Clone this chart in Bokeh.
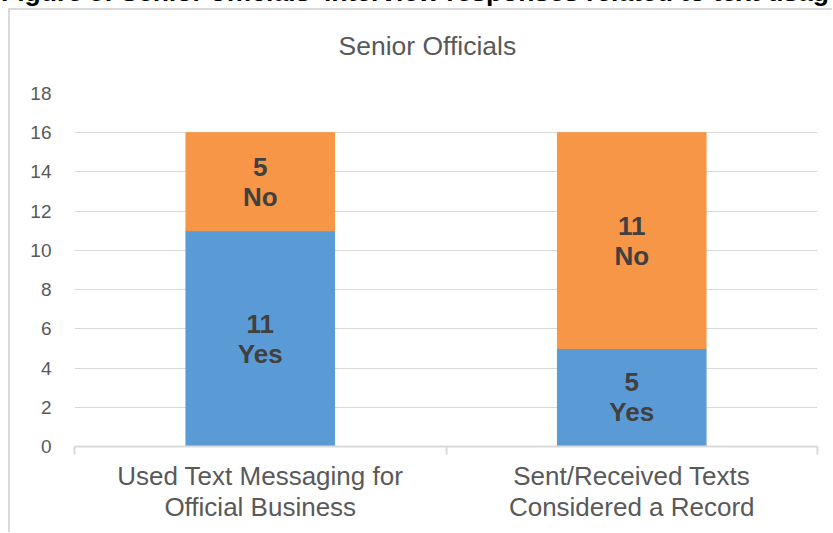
from bokeh.plotting import figure
from bokeh.layouts import column
from bokeh.models import (ColumnDataSource, Range1d, LinearAxis,
                          FixedTicker, Grid, Title, Div)
from bokeh.core.properties import value
from bokeh.embed import file_html
from bokeh.resources import INLINE

# ---- data ----
heading = "Figure 5: Senior officials' interview responses related to text usage"
chart_title = "Senior Officials"
categories = ["Used Text Messaging for\nOfficial Business",
              "Sent/Received Texts\nConsidered a Record"]
series = ["Yes", "No"]
yes_counts = [11, 5]
no_counts = [5, 11]
y_ticks = [0, 2, 4, 6, 8, 10, 12, 14, 16, 18]
colors = ["#5B9BD5", "#F79646"]

FONT = "Liberation Sans"

n = len(categories)
centers = [i + 0.5 for i in range(n)]
source = ColumnDataSource(dict(
    x=centers,
    Yes=yes_counts,
    No=no_counts,
    yes_mid=[v / 2 for v in yes_counts],
    no_mid=[y + k / 2 for y, k in zip(yes_counts, no_counts)],
    yes_lbl=[f"{v}\nYes" for v in yes_counts],
    no_lbl=[f"{v}\nNo" for v in no_counts],
))

p = figure(width=833, height=533,
           x_range=Range1d(0, n),
           y_range=Range1d(y_ticks[0], y_ticks[-1]),
           output_backend="svg", toolbar_location=None,
           x_axis_location=None, y_axis_location=None,
           min_border_left=74, min_border_right=16,
           min_border_top=92, min_border_bottom=87,
           outline_line_color=None, background_fill_color="white",
           border_fill_color="white")
p.grid.visible = False

# chart title
p.add_layout(Title(text=chart_title, align="left", offset=264, standoff=61,
                   vertical_align="top",
                   text_font=FONT, text_font_size="26.5px", text_font_style="normal",
                   text_color="#595959"), "above")

# y axis
yaxis = LinearAxis(ticker=FixedTicker(ticks=y_ticks),
                   axis_line_color=None, major_tick_line_color=None,
                   minor_tick_line_color=None, major_tick_in=0, major_tick_out=0,
                   major_label_standoff=23,
                   major_label_text_font=FONT, major_label_text_font_size="19px",
                   major_label_text_color="#595959")
p.add_layout(yaxis, "left")
p.add_layout(Grid(dimension=1, ticker=yaxis.ticker, grid_line_color="#d9d9d9",
                  grid_line_width=1))

# category boundary ticks + axis line
bound_ticks = list(range(n + 1))
tick_axis = LinearAxis(ticker=FixedTicker(ticks=bound_ticks),
                       major_label_overrides={t: "" for t in bound_ticks},
                       major_label_text_font_size="1px", major_label_standoff=0,
                       major_tick_in=0, major_tick_out=8,
                       major_tick_line_color="#d9d9d9", major_tick_line_width=2,
                       minor_tick_line_color=None,
                       axis_line_color="#d9d9d9", axis_line_width=2)
p.add_layout(tick_axis, "below")

# category labels
cat_axis = LinearAxis(ticker=FixedTicker(ticks=centers),
                      major_label_overrides={c: lab for c, lab in zip(centers, categories)},
                      axis_line_color=None, major_tick_line_color=None,
                      minor_tick_line_color=None,
                      major_tick_in=0, major_tick_out=0,
                      major_label_standoff=6,
                      major_label_text_font=FONT, major_label_text_font_size="26px",
                      major_label_text_color="#595959",
                      major_label_text_line_height=1.04)
p.add_layout(cat_axis, "below")

# stacked bars
p.vbar_stack(series, x="x", width=0.4, color=colors, source=source)

for ycol, lcol in (("yes_mid", "yes_lbl"), ("no_mid", "no_lbl")):
    p.text(x="x", y=ycol, text=lcol, source=source,
           text_align="center", text_baseline="middle",
           text_font=value(FONT), text_font_style="bold", text_font_size="26px",
           text_color="#404040", text_line_height=1.0)

# chart-area border and the (clipped) figure caption, as page elements
border = Div(text="", styles={
    "position": "absolute", "left": "3px", "top": "3px",
    "width": "824px", "height": "524px", "box-sizing": "border-box",
    "border-left": "2px solid #d9d9d9", "border-top": "2px solid #d9d9d9",
    "pointer-events": "none"})
caption = Div(text=heading, styles={
    "position": "absolute", "left": "-4px", "top": "-28px",
    "width": "828px", "height": "30px", "overflow": "hidden",
    "white-space": "nowrap", "font-family": FONT, "font-size": "26.5px",
    "font-weight": "bold", "color": "black", "line-height": "30px",
    "pointer-events": "none"})

layout = column(p, border, caption)
open("out.html", "w").write(file_html(layout, INLINE))
